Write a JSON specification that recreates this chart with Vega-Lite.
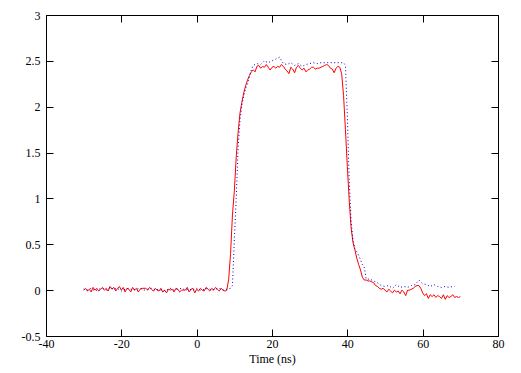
{
  "$schema": "https://vega.github.io/schema/vega-lite/v6.json",
  "width": 452,
  "height": 321,
  "autosize": "none",
  "padding": {"left": 46, "top": 15, "right": 23, "bottom": 37},
  "background": "white",
  "config": {
    "view": {"stroke": "black", "strokeWidth": 1},
    "axis": {
      "labelFont": "Liberation Serif",
      "titleFont": "Liberation Serif",
      "labelFontSize": 12,
      "titleFontSize": 12,
      "titleFontWeight": "normal",
      "labelColor": "black",
      "titleColor": "black",
      "tickColor": "black",
      "domainColor": "black",
      "grid": false,
      "tickSize": -7,
      "tickWidth": 1,
      "labelFlush": false,
      "labelOverlap": false,
      "labelExpr": "datum.value + ''"
    }
  },
  "datasets": {
    "red": [
      {"t": -30, "v": 0.00}, {"t": -29.5, "v": 0.02}, {"t": -29, "v": -0.01}, {"t": -28.5, "v": 0.01}, {"t": -28, "v": -0.02},
      {"t": -27.5, "v": 0.03}, {"t": -27, "v": 0.00}, {"t": -26.5, "v": 0.02}, {"t": -26, "v": -0.01}, {"t": -25.5, "v": 0.01},
      {"t": -25, "v": 0.03}, {"t": -24.5, "v": 0.00}, {"t": -24, "v": 0.02}, {"t": -23.5, "v": -0.01}, {"t": -23, "v": 0.04},
      {"t": -22.5, "v": 0.01}, {"t": -22, "v": 0.03}, {"t": -21.5, "v": -0.01}, {"t": -21, "v": 0.02}, {"t": -20.5, "v": 0.04},
      {"t": -20, "v": 0.00}, {"t": -19.5, "v": 0.03}, {"t": -19, "v": -0.02}, {"t": -18.5, "v": 0.02}, {"t": -18, "v": 0.01},
      {"t": -17.5, "v": -0.02}, {"t": -17, "v": 0.03}, {"t": -16.5, "v": 0.00}, {"t": -16, "v": 0.02}, {"t": -15.5, "v": -0.02},
      {"t": -15, "v": 0.01}, {"t": -14.5, "v": 0.02}, {"t": -14, "v": 0.02}, {"t": -13.5, "v": 0.02}, {"t": -13, "v": 0.00},
      {"t": -12.5, "v": 0.03}, {"t": -12, "v": 0.01}, {"t": -11.5, "v": -0.01}, {"t": -11, "v": 0.02}, {"t": -10.5, "v": 0.00},
      {"t": -10, "v": -0.01}, {"t": -9.5, "v": 0.02}, {"t": -9, "v": -0.02}, {"t": -8.5, "v": 0.00}, {"t": -8, "v": -0.03},
      {"t": -7.5, "v": 0.01}, {"t": -7, "v": 0.00}, {"t": -6.5, "v": 0.01}, {"t": -6, "v": -0.02}, {"t": -5.5, "v": 0.02},
      {"t": -5, "v": 0.01}, {"t": -4.5, "v": -0.02}, {"t": -4, "v": 0.00}, {"t": -3.5, "v": 0.00}, {"t": -3, "v": 0.00},
      {"t": -2.5, "v": 0.03}, {"t": -2, "v": -0.02}, {"t": -1.5, "v": 0.01}, {"t": -1, "v": 0.02}, {"t": -0.5, "v": -0.03},
      {"t": 0, "v": 0.01}, {"t": 0.5, "v": -0.01}, {"t": 1, "v": 0.02}, {"t": 1.5, "v": 0.00}, {"t": 2, "v": -0.01},
      {"t": 2.5, "v": 0.03}, {"t": 3, "v": 0.01}, {"t": 3.5, "v": -0.01}, {"t": 4, "v": 0.02}, {"t": 4.5, "v": 0.00},
      {"t": 5, "v": 0.03}, {"t": 5.5, "v": 0.01}, {"t": 6, "v": -0.01}, {"t": 6.5, "v": 0.02}, {"t": 7, "v": 0.00},
      {"t": 7.5, "v": -0.01}, {"t": 8, "v": 0.00}, {"t": 8.5, "v": 0.12}, {"t": 9, "v": 0.40}, {"t": 9.5, "v": 0.82},
      {"t": 10, "v": 1.08}, {"t": 10.5, "v": 1.45}, {"t": 11, "v": 1.72}, {"t": 11.5, "v": 1.93}, {"t": 12, "v": 2.05},
      {"t": 12.5, "v": 2.15}, {"t": 13, "v": 2.23}, {"t": 13.5, "v": 2.29}, {"t": 14, "v": 2.34}, {"t": 14.5, "v": 2.38},
      {"t": 15, "v": 2.40}, {"t": 15.5, "v": 2.38}, {"t": 16, "v": 2.44}, {"t": 16.5, "v": 2.45}, {"t": 17, "v": 2.42},
      {"t": 17.5, "v": 2.44}, {"t": 18, "v": 2.43}, {"t": 18.5, "v": 2.46}, {"t": 19, "v": 2.43}, {"t": 19.5, "v": 2.40},
      {"t": 20, "v": 2.43}, {"t": 20.5, "v": 2.44}, {"t": 21, "v": 2.42}, {"t": 21.5, "v": 2.44}, {"t": 22, "v": 2.43},
      {"t": 22.5, "v": 2.46}, {"t": 23, "v": 2.44}, {"t": 23.5, "v": 2.41}, {"t": 24, "v": 2.39}, {"t": 24.5, "v": 2.36},
      {"t": 25, "v": 2.43}, {"t": 25.5, "v": 2.41}, {"t": 26, "v": 2.37}, {"t": 26.5, "v": 2.43}, {"t": 27, "v": 2.45},
      {"t": 27.5, "v": 2.42}, {"t": 28, "v": 2.40}, {"t": 28.5, "v": 2.42}, {"t": 29, "v": 2.38}, {"t": 29.5, "v": 2.40},
      {"t": 30, "v": 2.41}, {"t": 30.5, "v": 2.43}, {"t": 31, "v": 2.43}, {"t": 31.5, "v": 2.41}, {"t": 32, "v": 2.42},
      {"t": 32.5, "v": 2.42}, {"t": 33, "v": 2.43}, {"t": 33.5, "v": 2.44}, {"t": 34, "v": 2.45}, {"t": 34.5, "v": 2.46},
      {"t": 35, "v": 2.45}, {"t": 35.5, "v": 2.42}, {"t": 36, "v": 2.41}, {"t": 36.5, "v": 2.37}, {"t": 37, "v": 2.42},
      {"t": 37.5, "v": 2.44}, {"t": 38, "v": 2.43}, {"t": 38.5, "v": 2.36}, {"t": 39, "v": 2.12}, {"t": 39.5, "v": 1.75},
      {"t": 40, "v": 1.35}, {"t": 40.5, "v": 0.98}, {"t": 41, "v": 0.68}, {"t": 41.5, "v": 0.52}, {"t": 42, "v": 0.44},
      {"t": 42.5, "v": 0.35}, {"t": 43, "v": 0.28}, {"t": 43.5, "v": 0.22}, {"t": 44, "v": 0.14}, {"t": 44.5, "v": 0.11},
      {"t": 45, "v": 0.11}, {"t": 45.5, "v": 0.10}, {"t": 46, "v": 0.10}, {"t": 46.5, "v": 0.09}, {"t": 47, "v": 0.08},
      {"t": 47.5, "v": 0.05}, {"t": 48, "v": 0.04}, {"t": 48.5, "v": 0.02}, {"t": 49, "v": 0.01}, {"t": 49.5, "v": 0.02},
      {"t": 50, "v": 0.00}, {"t": 50.5, "v": -0.02}, {"t": 51, "v": 0.01}, {"t": 51.5, "v": -0.01}, {"t": 52, "v": -0.03},
      {"t": 52.5, "v": 0.00}, {"t": 53, "v": -0.02}, {"t": 53.5, "v": -0.01}, {"t": 54, "v": -0.04}, {"t": 54.5, "v": 0.00},
      {"t": 55, "v": -0.02}, {"t": 55.5, "v": -0.06}, {"t": 56, "v": 0.00}, {"t": 56.5, "v": 0.00}, {"t": 57, "v": 0.01},
      {"t": 57.5, "v": 0.02}, {"t": 58, "v": 0.04}, {"t": 58.5, "v": 0.05}, {"t": 59, "v": 0.05}, {"t": 59.5, "v": 0.02},
      {"t": 60, "v": -0.03}, {"t": 60.5, "v": -0.06}, {"t": 61, "v": -0.04}, {"t": 61.5, "v": -0.09}, {"t": 62, "v": -0.05},
      {"t": 62.5, "v": -0.07}, {"t": 63, "v": -0.05}, {"t": 63.5, "v": -0.08}, {"t": 64, "v": -0.06}, {"t": 64.5, "v": -0.07},
      {"t": 65, "v": -0.09}, {"t": 65.5, "v": -0.05}, {"t": 66, "v": -0.10}, {"t": 66.5, "v": -0.06}, {"t": 67, "v": -0.08},
      {"t": 67.5, "v": -0.07}, {"t": 68, "v": -0.05}, {"t": 68.5, "v": -0.08}, {"t": 69, "v": -0.07}, {"t": 69.5, "v": -0.08},
      {"t": 70, "v": -0.07}
    ],
    "blue": [
      {"t": -30, "v": 0.01}, {"t": -29, "v": 0.00}, {"t": -28, "v": 0.02}, {"t": -27, "v": -0.01}, {"t": -26, "v": 0.01},
      {"t": -25, "v": 0.02}, {"t": -24, "v": 0.00}, {"t": -23, "v": 0.03}, {"t": -22, "v": 0.01}, {"t": -21, "v": 0.02},
      {"t": -20, "v": -0.01}, {"t": -19, "v": 0.01}, {"t": -18, "v": 0.02}, {"t": -17, "v": 0.00}, {"t": -16, "v": 0.01},
      {"t": -15, "v": 0.02}, {"t": -14, "v": 0.00}, {"t": -13, "v": 0.01}, {"t": -12, "v": 0.02}, {"t": -11, "v": 0.00},
      {"t": -10, "v": 0.01}, {"t": -9, "v": -0.01}, {"t": -8, "v": 0.00}, {"t": -7, "v": 0.02}, {"t": -6, "v": 0.00},
      {"t": -5, "v": 0.01}, {"t": -4, "v": 0.02}, {"t": -3, "v": 0.00}, {"t": -2, "v": 0.01}, {"t": -1, "v": 0.00},
      {"t": 0, "v": 0.02}, {"t": 1, "v": 0.00}, {"t": 2, "v": 0.01}, {"t": 3, "v": 0.02}, {"t": 4, "v": 0.00},
      {"t": 5, "v": 0.01}, {"t": 6, "v": 0.02}, {"t": 7, "v": 0.00}, {"t": 8, "v": 0.01}, {"t": 9, "v": 0.02},
      {"t": 9.5, "v": 0.05}, {"t": 10, "v": 0.55}, {"t": 10.5, "v": 1.0}, {"t": 11, "v": 1.55}, {"t": 11.5, "v": 1.85},
      {"t": 12, "v": 2.02}, {"t": 12.5, "v": 2.12}, {"t": 13, "v": 2.20}, {"t": 13.5, "v": 2.25}, {"t": 14, "v": 2.33},
      {"t": 14.5, "v": 2.40}, {"t": 15, "v": 2.45}, {"t": 16, "v": 2.47}, {"t": 17, "v": 2.46}, {"t": 18, "v": 2.50},
      {"t": 19, "v": 2.48}, {"t": 20, "v": 2.50}, {"t": 21, "v": 2.52}, {"t": 22, "v": 2.54}, {"t": 23, "v": 2.47},
      {"t": 24, "v": 2.46}, {"t": 25, "v": 2.48}, {"t": 26, "v": 2.45}, {"t": 27, "v": 2.47}, {"t": 28, "v": 2.44},
      {"t": 29, "v": 2.46}, {"t": 30, "v": 2.47}, {"t": 31, "v": 2.48}, {"t": 32, "v": 2.47}, {"t": 33, "v": 2.48},
      {"t": 34, "v": 2.48}, {"t": 35, "v": 2.48}, {"t": 36, "v": 2.48}, {"t": 37, "v": 2.48}, {"t": 38, "v": 2.48},
      {"t": 39, "v": 2.48}, {"t": 39.5, "v": 2.45}, {"t": 40, "v": 1.90}, {"t": 40.5, "v": 1.20}, {"t": 41, "v": 0.75},
      {"t": 41.5, "v": 0.55}, {"t": 42, "v": 0.45}, {"t": 42.5, "v": 0.42}, {"t": 43, "v": 0.38}, {"t": 44, "v": 0.28},
      {"t": 44.5, "v": 0.25}, {"t": 45, "v": 0.12}, {"t": 46, "v": 0.12}, {"t": 47, "v": 0.10}, {"t": 48, "v": 0.08},
      {"t": 49, "v": 0.05}, {"t": 50, "v": 0.04}, {"t": 51, "v": 0.05}, {"t": 52, "v": 0.02}, {"t": 53, "v": 0.06},
      {"t": 54, "v": 0.03}, {"t": 55, "v": 0.04}, {"t": 56, "v": 0.03}, {"t": 57, "v": 0.05}, {"t": 58, "v": 0.06},
      {"t": 59, "v": 0.11}, {"t": 60, "v": 0.07}, {"t": 61, "v": 0.06}, {"t": 62, "v": 0.04}, {"t": 63, "v": 0.06},
      {"t": 64, "v": 0.04}, {"t": 65, "v": 0.03}, {"t": 66, "v": 0.04}, {"t": 67, "v": 0.03}, {"t": 68, "v": 0.04},
      {"t": 68.5, "v": 0.04}
    ]
  },
  "layer": [
    {
      "data": {"name": "red"},
      "mark": {"type": "line", "color": "#ff0000", "strokeWidth": 1, "clip": true},
      "encoding": {
        "x": {"field": "t", "type": "quantitative", "scale": {"domain": [-40, 80], "nice": false, "zero": false},
          "axis": {"orient": "bottom", "title": "Time (ns)", "values": [-40, -20, 0, 20, 40, 60, 80], "labelPadding": 9, "titlePadding": 4, "domain": false}},
        "y": {"field": "v", "type": "quantitative", "scale": {"domain": [-0.5, 3], "nice": false, "zero": false},
          "axis": {"orient": "left", "title": null, "values": [-0.5, 0, 0.5, 1, 1.5, 2, 2.5, 3], "labelPadding": 13, "domain": false}}
      }
    },
    {
      "data": {"name": "blue"},
      "mark": {"type": "line", "color": "#0000cc", "strokeWidth": 1, "strokeDash": [1, 2.5], "clip": true},
      "encoding": {
        "x": {"field": "t", "type": "quantitative",
          "axis": {"orient": "top", "title": null, "labels": false, "values": [-40, -20, 0, 20, 40, 60, 80], "domain": false}},
        "y": {"field": "v", "type": "quantitative",
          "axis": {"orient": "right", "title": null, "labels": false, "values": [-0.5, 0, 0.5, 1, 1.5, 2, 2.5, 3], "domain": false}}
      }
    }
  ],
  "resolve": {"axis": {"x": "independent", "y": "independent"}}
}
